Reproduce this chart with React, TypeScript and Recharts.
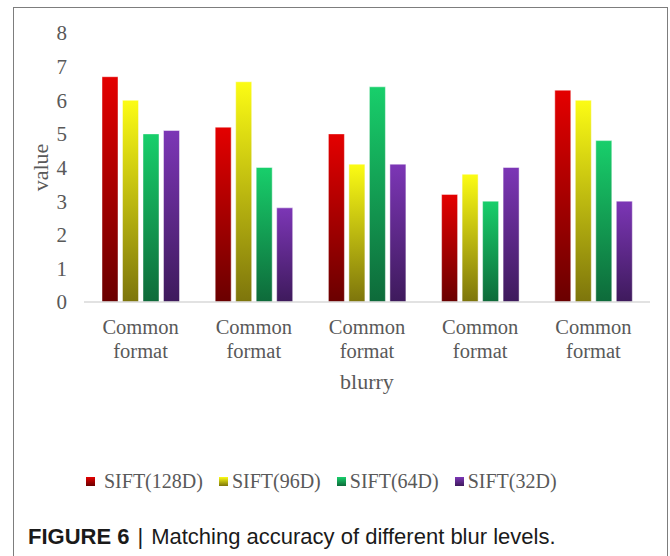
import React from 'react';
import { BarChart, Bar, XAxis, YAxis, Label } from 'recharts';

// Category labels along the x axis
const categories = ['Common format', 'Common format', 'Common format', 'Common format', 'Common format'];

// Matching accuracy per descriptor dimension
const sift128 = [6.7, 5.2, 5.0, 3.2, 6.3];
const sift96 = [6.0, 6.55, 4.1, 3.8, 6.0];
const sift64 = [5.0, 4.0, 6.4, 3.0, 4.8];
const sift32 = [5.1, 2.8, 4.1, 4.0, 3.0];

const yTicks = [0, 1, 2, 3, 4, 5, 6, 7, 8];

const seriesNames = ['SIFT(128D)', 'SIFT(96D)', 'SIFT(64D)', 'SIFT(32D)'];
const seriesKeys = ['s128', 's96', 's64', 's32'];
const seriesTop = ['#e40000', '#fcfc14', '#18cf6b', '#7c36b6'];
const seriesBottom = ['#6a0000', '#7d750c', '#0e6a3a', '#3e1a5c'];

const data = categories.map((c, i) => ({
  name: c,
  s128: sift128[i],
  s96: sift96[i],
  s64: sift64[i],
  s32: sift32[i],
}));

const SERIF = '"Liberation Serif", "Times New Roman", serif';
const SANS = '"Liberation Sans", Arial, Helvetica, sans-serif';
const TEXT_GREY = '#595959';

const CategoryTick = (props: any) => {
  const { x, y, payload } = props;
  const words = String(payload.value).split(' ');
  return (
    <text x={x} y={y} textAnchor="middle" fill={TEXT_GREY} fontSize={20.5} fontFamily={SERIF}>
      <tspan x={x} dy={32}>{words[0]}</tspan>
      <tspan x={x} dy={23.5}>{words[1]}</tspan>
    </text>
  );
};

export default function App() {
  return (
    <div style={{ position: 'absolute', left: 0, top: 0, width: 670, height: 556, overflow: 'hidden', background: '#fff' }}>
      <div
        style={{
          position: 'absolute',
          left: 13,
          top: 7,
          width: 655,
          height: 620,
          border: '1.5px solid #7d7d7d',
          boxSizing: 'border-box',
        }}
      />
      <div style={{ position: 'absolute', left: 0, top: 0 }}>
        <BarChart
          width={670}
          height={400}
          data={data}
          margin={{ top: 33, right: 20, left: 0, bottom: 8 }}
          barSize={16}
          barGap={4.5}
        >
          <defs>
            {seriesKeys.map((k, i) => (
              <linearGradient key={k} id={`grad-${k}`} x1="0" y1="0" x2="0" y2="1">
                <stop offset="0%" stopColor={seriesTop[i]} />
                <stop offset="100%" stopColor={seriesBottom[i]} />
              </linearGradient>
            ))}
          </defs>
          <XAxis
            dataKey="name"
            height={90}
            tickLine={false}
            tickSize={0}
            tickMargin={0}
            axisLine={{ stroke: '#d9d9d9', strokeWidth: 1.5 }}
            tick={<CategoryTick />}
            interval={0}
          >
            <Label
              content={(p: any) => {
                const vb = p.viewBox;
                return (
                  <text
                    x={vb.x + vb.width / 2}
                    y={381}
                    textAnchor="middle"
                    dominantBaseline="central"
                    fill={TEXT_GREY}
                    fontSize={22}
                    fontFamily={SERIF}
                  >
                    blurry
                  </text>
                );
              }}
            />
          </XAxis>
          <YAxis
            width={84}
            domain={[0, 8]}
            ticks={yTicks}
            interval={0}
            axisLine={false}
            tickLine={false}
            tickSize={0}
            tickMargin={17}
            tick={{ fill: TEXT_GREY, fontSize: 21, fontFamily: SERIF }}
          >
            <Label
              content={(p: any) => {
                const vb = p.viewBox;
                const cx = 40;
                const cy = vb.y + vb.height / 2;
                return (
                  <text
                    x={cx}
                    y={cy}
                    textAnchor="middle"
                    dominantBaseline="central"
                    transform={`rotate(-90 ${cx} ${cy})`}
                    fill={TEXT_GREY}
                    fontSize={22}
                    fontFamily={SERIF}
                  >
                    value
                  </text>
                );
              }}
            />
          </YAxis>
          {seriesKeys.map((k, i) => (
            <Bar
              key={k}
              dataKey={k}
              name={seriesNames[i]}
              fill={`url(#grad-${k})`}
              stroke="rgba(255,255,255,0.45)"
              strokeWidth={1}
              isAnimationActive={false}
            />
          ))}
        </BarChart>
      </div>

      {/* legend */}
      <div
        style={{
          position: 'absolute',
          left: 86,
          top: 469,
          display: 'flex',
          alignItems: 'center',
          fontFamily: SERIF,
          fontSize: 20,
          color: TEXT_GREY,
          whiteSpace: 'nowrap',
          lineHeight: '24px',
        }}
      >
        {seriesNames.map((n, i) => (
          <div key={n} style={{ display: 'flex', alignItems: 'center', marginRight: 16 }}>
            <span
              style={{
                display: 'inline-block',
                width: 9,
                height: 9,
                marginRight: i === 0 ? 9 : 4,
                background: `linear-gradient(${seriesTop[i]}, ${seriesBottom[i]})`,
              }}
            />
            <span>{n}</span>
          </div>
        ))}
      </div>

      {/* caption */}
      <div
        style={{
          position: 'absolute',
          left: 28,
          top: 525,
          fontFamily: SANS,
          fontSize: 22,
          color: '#1a1a1a',
          whiteSpace: 'nowrap',
          lineHeight: '24px',
        }}
      >
        <b>FIGURE 6</b>
        <span style={{ margin: '0 8px' }}>|</span>
        <span>Matching accuracy of different blur levels.</span>
      </div>
    </div>
  );
}
